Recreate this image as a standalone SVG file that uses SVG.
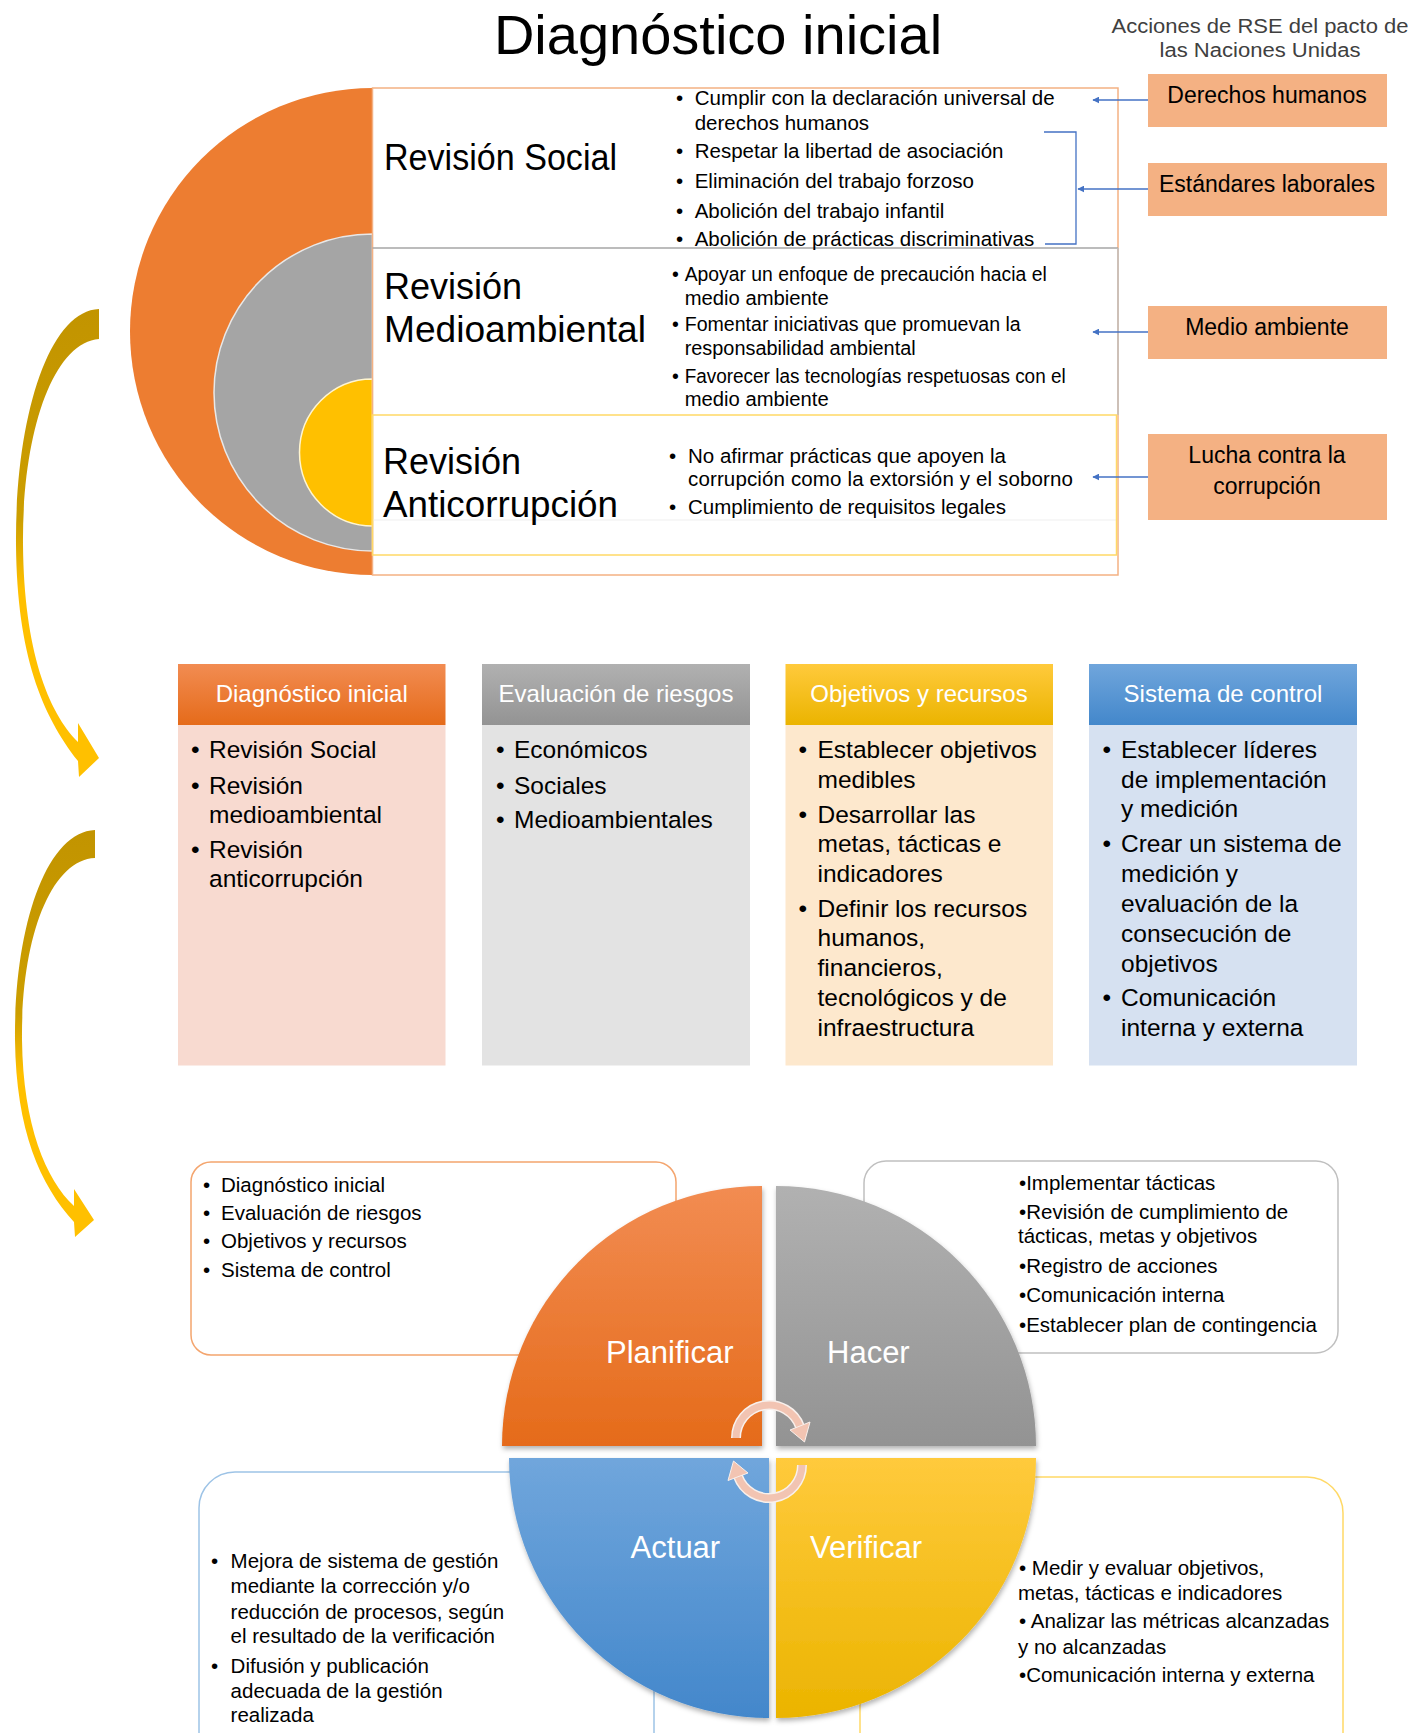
<svg xmlns="http://www.w3.org/2000/svg" width="1428" height="1733" viewBox="0 0 1428 1733">
<style>
text{font-family:"Liberation Sans",Arial,sans-serif;fill:#000}
.t20{font-size:20.5px}
.t19{font-size:19.5px}
.col{font-size:24.5px}
.hdr{font-size:24px;fill:#fff;text-anchor:middle}
.big{font-size:36px}
.rse{font-size:23px;text-anchor:middle}
.lbl{font-size:31px;fill:#fff}
.conn{stroke:#4472C4;stroke-width:1.3;fill:none}
</style>
<defs>
<marker id="ah" viewBox="0 0 10 10" refX="9" refY="5" markerWidth="7" markerHeight="7" orient="auto-start-reverse" markerUnits="userSpaceOnUse">
<path d="M0,0 L10,5 L0,10 Z" fill="#4472C4"/>
</marker>
<linearGradient id="gArrow" x1="0" y1="0" x2="0" y2="1">
<stop offset="0" stop-color="#C29400"/><stop offset="0.45" stop-color="#CC9E00"/><stop offset="0.6" stop-color="#FFC000"/><stop offset="1" stop-color="#FFC000"/>
</linearGradient>
<linearGradient id="gO" x1="0" y1="0" x2="0" y2="1"><stop offset="0" stop-color="#F28C52"/><stop offset="1" stop-color="#E56B1A"/></linearGradient>
<linearGradient id="gG" x1="0" y1="0" x2="0" y2="1"><stop offset="0" stop-color="#B1B1B1"/><stop offset="1" stop-color="#939393"/></linearGradient>
<linearGradient id="gY" x1="0" y1="0" x2="0" y2="1"><stop offset="0" stop-color="#FFCA3C"/><stop offset="1" stop-color="#EBB400"/></linearGradient>
<linearGradient id="gB" x1="0" y1="0" x2="0" y2="1"><stop offset="0" stop-color="#70A6DC"/><stop offset="1" stop-color="#4387CB"/></linearGradient>
<filter id="sh" x="-10%" y="-10%" width="120%" height="120%"><feDropShadow dx="1" dy="3" stdDeviation="2.5" flood-color="#000" flood-opacity="0.3"/></filter>
</defs>

<!-- Title -->
<text x="718" y="54" font-size="56" text-anchor="middle" fill="#1a1a1a">Diagnóstico inicial</text>
<text x="1260" y="32.5" font-size="20" text-anchor="middle" style="fill:#404040" textLength="297" lengthAdjust="spacingAndGlyphs">Acciones de RSE del pacto de</text>
<text x="1260" y="56.5" font-size="20" text-anchor="middle" style="fill:#404040" textLength="201" lengthAdjust="spacingAndGlyphs">las Naciones Unidas</text>

<!-- Top section -->
<g id="rings">
<path d="M372.5,88 A242.5,243.5 0 0 0 372.5,575 Z" fill="#ED7D31"/>
<path d="M372.5,234 A158.5,158.5 0 0 0 372.5,551 Z" fill="#A5A5A5" stroke="#E8E8E8" stroke-width="1.5"/>
<path d="M372.5,379 A73,73.5 0 0 0 372.5,526 Z" fill="#FFC000" stroke="#FFF5D0" stroke-width="1.5"/>
</g>
<g id="review-boxes">
<rect x="372.5" y="88" width="745.5" height="487" fill="none" stroke="#F4B183" stroke-width="1.5"/>
<line x1="372.5" y1="248" x2="1118" y2="248" stroke="#A6A6A6" stroke-width="1.5"/>
<line x1="1118" y1="248" x2="1118" y2="415" stroke="#BFBFBF" stroke-width="1.5"/>
<line x1="372.5" y1="520" x2="1116" y2="520" stroke="#EFEFEF" stroke-width="1"/>
<rect x="372.5" y="415" width="744" height="140" fill="none" stroke="#FFD966" stroke-width="1.5"/>
</g>
<g id="revision-social">
<text class="big" x="384" y="170" textLength="233" lengthAdjust="spacingAndGlyphs">Revisión Social</text>
<text class="t20" x="676" y="105">•</text><text class="t20" x="694.7" y="105" textLength="360">Cumplir con la declaración universal de</text>
<text class="t20" x="694.7" y="129.5">derechos humanos</text>
<text class="t20" x="676" y="158">•</text><text class="t20" x="694.7" y="158">Respetar la libertad de asociación</text>
<text class="t20" x="676" y="188">•</text><text class="t20" x="694.7" y="188">Eliminación del trabajo forzoso</text>
<text class="t20" x="676" y="217.5">•</text><text class="t20" x="694.7" y="217.5">Abolición del trabajo infantil</text>
<text class="t20" x="676" y="246">•</text><text class="t20" x="694.7" y="246">Abolición de prácticas discriminativas</text>
</g>
<g id="revision-medioambiental">
<text class="big" x="384" y="299">Revisión</text>
<text class="big" x="384" y="342" textLength="262" lengthAdjust="spacingAndGlyphs">Medioambiental</text>
<text class="t19" x="672" y="281">•</text><text class="t19" x="684.7" y="281" textLength="362" lengthAdjust="spacingAndGlyphs">Apoyar un enfoque de precaución hacia el</text>
<text class="t19" x="684.7" y="305" textLength="144" lengthAdjust="spacingAndGlyphs">medio ambiente</text>
<text class="t19" x="672" y="331">•</text><text class="t19" x="684.7" y="331" textLength="336" lengthAdjust="spacingAndGlyphs">Fomentar iniciativas que promuevan la</text>
<text class="t19" x="684.7" y="355" textLength="231" lengthAdjust="spacingAndGlyphs">responsabilidad ambiental</text>
<text class="t19" x="672" y="383">•</text><text class="t19" x="684.7" y="383" textLength="381" lengthAdjust="spacingAndGlyphs">Favorecer las tecnologías respetuosas con el</text>
<text class="t19" x="684.7" y="406" textLength="144" lengthAdjust="spacingAndGlyphs">medio ambiente</text>
</g>
<g id="revision-anticorrupcion">
<text class="big" x="383" y="474">Revisión</text>
<text class="big" x="383" y="517" textLength="235" lengthAdjust="spacingAndGlyphs">Anticorrupción</text>
<text class="t20" x="669" y="462.5">•</text><text class="t20" x="688" y="462.5">No afirmar prácticas que apoyen la</text>
<text class="t20" x="688" y="485.5" textLength="385">corrupción como la extorsión y el soborno</text>
<text class="t20" x="669" y="514">•</text><text class="t20" x="688" y="514">Cumplimiento de requisitos legales</text>
</g>

<g id="rse-derechos"><rect x="1148" y="74" width="239" height="53" fill="#F4B183"/><text class="rse" x="1267" y="103">Derechos humanos</text></g>
<g id="rse-laborales"><rect x="1148" y="163" width="239" height="53" fill="#F4B183"/><text class="rse" x="1267" y="191.5">Estándares laborales</text></g>
<g id="rse-medio"><rect x="1148" y="306" width="239" height="53" fill="#F4B183"/><text class="rse" x="1267" y="335">Medio ambiente</text></g>
<g id="rse-corrupcion"><rect x="1148" y="434" width="239" height="86" fill="#F4B183"/><text class="rse" x="1267" y="463">Lucha contra la</text><text class="rse" x="1267" y="494">corrupción</text></g>

<g id="connectors">
<line class="conn" x1="1148" y1="100" x2="1093" y2="100" marker-end="url(#ah)"/>
<line class="conn" x1="1148" y1="189" x2="1078" y2="189" marker-end="url(#ah)"/>
<polyline class="conn" points="1044,132 1076,132 1076,244 1045,244"/>
<line class="conn" x1="1148" y1="332" x2="1093" y2="332" marker-end="url(#ah)"/>
<line class="conn" x1="1148" y1="477" x2="1093" y2="477" marker-end="url(#ah)"/>
<path d="M99,309 C48,311 15,420 16,545 C17,655 42,715 78,761 L79,777 L99,758 L78,723 L78,742 C48,712 24,650 23,545 C22,435 52,343 99,339 Z" fill="url(#gArrow)"/>
<path d="M95,830 C45,832 14,930 15,1040 C16,1130 40,1185 74,1222 L75,1237 L94,1220 L74,1189 L74,1206 C46,1180 23,1125 22,1040 C21,940 50,860 95,858 Z" fill="url(#gArrow)"/>
</g>

<!-- Middle columns -->
<g id="col-diagnostico">
<rect x="178" y="725" width="267.5" height="340.5" fill="#F8DAD0"/>
<rect x="178" y="664" width="267.5" height="61" fill="url(#gO)"/>
<text class="hdr" x="311.75" y="702">Diagnóstico inicial</text>
<text class="col" x="191" y="758">•</text><text class="col" x="209" y="758">Revisión Social</text>
<text class="col" x="191" y="794">•</text><text class="col" x="209" y="794">Revisión</text>
<text class="col" x="209" y="823">medioambiental</text>
<text class="col" x="191" y="858">•</text><text class="col" x="209" y="858">Revisión</text>
<text class="col" x="209" y="887">anticorrupción</text>
</g>
<g id="col-evaluacion">
<rect x="482" y="725" width="268" height="340.5" fill="#E3E3E3"/>
<rect x="482" y="664" width="268" height="61" fill="url(#gG)"/>
<text class="hdr" x="616" y="702">Evaluación de riesgos</text>
<text class="col" x="496" y="758">•</text><text class="col" x="514" y="758">Económicos</text>
<text class="col" x="496" y="794">•</text><text class="col" x="514" y="794">Sociales</text>
<text class="col" x="496" y="828">•</text><text class="col" x="514" y="828">Medioambientales</text>
</g>
<g id="col-objetivos">
<rect x="785.5" y="725" width="267.5" height="340.5" fill="#FDE8CD"/>
<rect x="785.5" y="664" width="267.5" height="61" fill="url(#gY)"/>
<text class="hdr" x="919" y="702">Objetivos y recursos</text>
<text class="col" x="798.5" y="758">•</text><text class="col" x="817.5" y="758">Establecer objetivos</text>
<text class="col" x="817.5" y="788">medibles</text>
<text class="col" x="798.5" y="823">•</text><text class="col" x="817.5" y="823">Desarrollar las</text>
<text class="col" x="817.5" y="852">metas, tácticas e</text>
<text class="col" x="817.5" y="882">indicadores</text>
<text class="col" x="798.5" y="917">•</text><text class="col" x="817.5" y="917">Definir los recursos</text>
<text class="col" x="817.5" y="946">humanos,</text>
<text class="col" x="817.5" y="976">financieros,</text>
<text class="col" x="817.5" y="1006">tecnológicos y de</text>
<text class="col" x="817.5" y="1036">infraestructura</text>
</g>
<g id="col-control">
<rect x="1089" y="725" width="268" height="340.5" fill="#D6E1F1"/>
<rect x="1089" y="664" width="268" height="61" fill="url(#gB)"/>
<text class="hdr" x="1223" y="702">Sistema de control</text>
<text class="col" x="1102.5" y="758">•</text><text class="col" x="1121" y="758">Establecer líderes</text>
<text class="col" x="1121" y="788">de implementación</text>
<text class="col" x="1121" y="817">y medición</text>
<text class="col" x="1102.5" y="852">•</text><text class="col" x="1121" y="852">Crear un sistema de</text>
<text class="col" x="1121" y="882">medición y</text>
<text class="col" x="1121" y="912">evaluación de la</text>
<text class="col" x="1121" y="942">consecución de</text>
<text class="col" x="1121" y="972">objetivos</text>
<text class="col" x="1102.5" y="1006">•</text><text class="col" x="1121" y="1006">Comunicación</text>
<text class="col" x="1121" y="1036">interna y externa</text>
</g>

<!-- PDCA text boxes -->
<g id="box-planificar">
<rect x="191" y="1162" width="485" height="193" rx="20" fill="#fff" stroke="#F4A56E" stroke-width="1.5"/>
<text class="t20" x="203" y="1192">•</text><text class="t20" x="221" y="1192">Diagnóstico inicial</text>
<text class="t20" x="203" y="1220">•</text><text class="t20" x="221" y="1220">Evaluación de riesgos</text>
<text class="t20" x="203" y="1248">•</text><text class="t20" x="221" y="1248">Objetivos y recursos</text>
<text class="t20" x="203" y="1277">•</text><text class="t20" x="221" y="1277">Sistema de control</text>
</g>
<g id="box-hacer">
<rect x="864" y="1161" width="474" height="192" rx="22" fill="#fff" stroke="#C0C0C0" stroke-width="1.5"/>
<text class="t20" x="1019" y="1190">•Implementar tácticas</text>
<text class="t20" x="1019" y="1219">•Revisión de cumplimiento de</text>
<text class="t20" x="1018" y="1243">tácticas, metas y objetivos</text>
<text class="t20" x="1019" y="1273">•Registro de acciones</text>
<text class="t20" x="1019" y="1302">•Comunicación interna</text>
<text class="t20" x="1019" y="1332">•Establecer plan de contingencia</text>
</g>
<g id="box-actuar">
<rect x="199" y="1472" width="455" height="300" rx="36" fill="#fff" stroke="#9DC3E6" stroke-width="1.5"/>
<text class="t20" x="211" y="1568">•</text><text class="t20" x="230.6" y="1568">Mejora de sistema de gestión</text>
<text class="t20" x="230.6" y="1593">mediante la corrección y/o</text>
<text class="t20" x="230.6" y="1619">reducción de procesos, según</text>
<text class="t20" x="230.6" y="1643">el resultado de la verificación</text>
<text class="t20" x="211" y="1673">•</text><text class="t20" x="230.6" y="1673">Difusión y publicación</text>
<text class="t20" x="230.6" y="1698">adecuada de la gestión</text>
<text class="t20" x="230.6" y="1722">realizada</text>
</g>
<g id="box-verificar">
<rect x="860" y="1477" width="483" height="300" rx="36" fill="#fff" stroke="#FFD966" stroke-width="1.5"/>
<text class="t20" x="1019" y="1575">• Medir y evaluar objetivos,</text>
<text class="t20" x="1018" y="1600">metas, tácticas e indicadores</text>
<text class="t20" x="1019" y="1628">• Analizar las métricas alcanzadas</text>
<text class="t20" x="1018" y="1654">y no alcanzadas</text>
<text class="t20" x="1019" y="1682">•Comunicación interna y externa</text>
</g>

<!-- PDCA quarters -->
<g id="planificar"><path d="M762,1446 L502,1446 A260,260 0 0 1 762,1186 Z" fill="url(#gO)" filter="url(#sh)"/><text class="lbl" x="606" y="1363">Planificar</text></g>
<g id="hacer"><path d="M776,1446 L776,1186 A260,260 0 0 1 1036,1446 Z" fill="url(#gG)" filter="url(#sh)"/><text class="lbl" x="827" y="1363">Hacer</text></g>
<g id="actuar"><path d="M769,1458 L769,1718 A260,260 0 0 1 509,1458 Z" fill="url(#gB)" filter="url(#sh)"/><text class="lbl" x="630.6" y="1558">Actuar</text></g>
<g id="verificar"><path d="M776,1458 L1036,1458 A260,260 0 0 1 776,1718 Z" fill="url(#gY)" filter="url(#sh)"/><text class="lbl" x="810" y="1558">Verificar</text></g>

<g id="cycle-arrows">
<path d="M736,1438 A33,33 0 0 1 800,1426.7" fill="none" stroke="#F8F0EC" stroke-width="10"/>
<path d="M736,1438 A33,33 0 0 1 800,1426.7" fill="none" stroke="#F2C4B2" stroke-width="7"/>
<polygon points="810,1422 790,1430 804.5,1442" fill="#F2C4B2" stroke="#F8F0EC" stroke-width="1"/>
<path d="M802,1465 A33,33 0 0 1 738,1476.3" fill="none" stroke="#F8F0EC" stroke-width="10"/>
<path d="M802,1465 A33,33 0 0 1 738,1476.3" fill="none" stroke="#F2C4B2" stroke-width="7"/>
<polygon points="728,1480.5 748,1473 733.5,1461" fill="#F2C4B2" stroke="#F8F0EC" stroke-width="1"/>
</g>
</svg>
